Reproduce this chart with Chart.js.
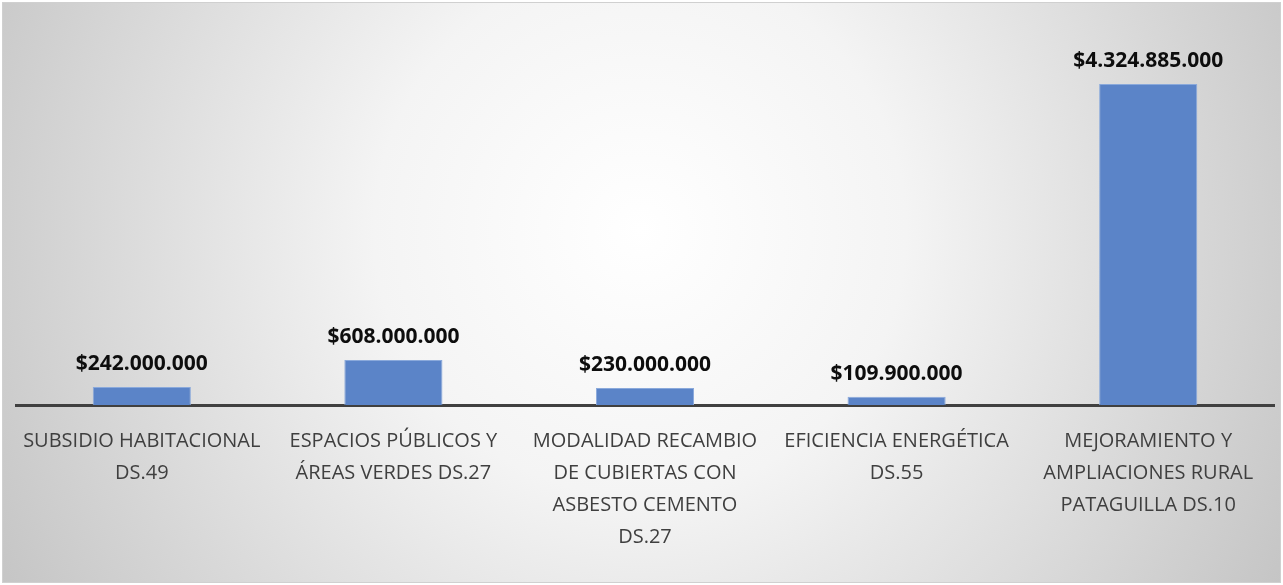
<!DOCTYPE html>
<html>
<head>
<meta charset="utf-8">
<script src="https://cdn.jsdelivr.net/npm/chart.js@4"></script>
<style>
  html, body { margin: 0; padding: 0; background: #fff; }
  #wrap { width: 1283px; height: 585px; }
</style>
</head>
<body>
<div id="wrap"><canvas id="chart" width="1283" height="585"></canvas></div>
<script>
const categories = [
    ['SUBSIDIO HABITACIONAL', 'DS.49'],
    ['ESPACIOS PÚBLICOS Y', 'ÁREAS VERDES DS.27'],
    ['MODALIDAD RECAMBIO', 'DE CUBIERTAS CON', 'ASBESTO CEMENTO', 'DS.27'],
    ['EFICIENCIA ENERGÉTICA', 'DS.55'],
    ['MEJORAMIENTO Y', 'AMPLIACIONES RURAL', 'PATAGUILLA DS.10']
];
const montos = [242000000, 608000000, 230000000, 109900000, 4324885000];
const montoLabels = ['$242.000.000', '$608.000.000', '$230.000.000', '$109.900.000', '$4.324.885.000'];

// fondo con degradado radial y borde
const fondo = {
    id: 'fondo',
    beforeDraw(chart) {
        const ctx = chart.ctx;
        const w = chart.width, h = chart.height;
        ctx.save();
        const g = ctx.createRadialGradient(640, 230, 0, 640, 230, 760);
        g.addColorStop(0, '#ffffff');
        g.addColorStop(0.35, '#f4f4f4');
        g.addColorStop(1, '#c2c2c2');
        ctx.fillStyle = g;
        ctx.fillRect(3, 3, w - 6, h - 6);
        ctx.strokeStyle = '#d0d0d0';
        ctx.lineWidth = 1;
        ctx.strokeRect(2.5, 2.5, w - 5, h - 5);
        ctx.restore();
    }
};

// etiquetas de datos sobre las barras
const etiquetas = {
    id: 'etiquetas',
    afterDatasetsDraw(chart) {
        const ctx = chart.ctx;
        const meta = chart.getDatasetMeta(0);
        ctx.save();
        ctx.font = 'bold 21px "Open Sans", sans-serif';
        ctx.fillStyle = '#0d0d0d';
        ctx.textAlign = 'center';
        ctx.textBaseline = 'alphabetic';
        meta.data.forEach((bar, i) => {
            ctx.fillText(montoLabels[i], bar.x, bar.y - 17);
        });
        ctx.restore();
    }
};

new Chart(document.getElementById('chart'), {
    type: 'bar',
    data: {
        labels: categories,
        datasets: [{
            data: montos,
            backgroundColor: '#5b84c8',
            borderColor: '#8aa9db',
            borderWidth: 1,
            categoryPercentage: 1,
            barPercentage: 0.39
        }]
    },
    options: {
        responsive: false,
        animation: false,
        layout: { padding: { left: 16, right: 9, top: 34, bottom: 20 } },
        plugins: {
            legend: { display: false },
            tooltip: { enabled: false }
        },
        scales: {
            x: {
                grid: { display: false },
                border: { color: '#404040', width: 3 },
                ticks: {
                    color: '#3f3f3f',
                    font: { family: '"Open Sans", sans-serif', size: 20, lineHeight: 1.6 },
                    padding: 12,
                    maxRotation: 0,
                    autoSkip: false
                }
            },
            y: {
                display: false,
                min: 0,
                max: 5000000000
            }
        }
    },
    plugins: [fondo, etiquetas]
});
</script>
</body>
</html>
